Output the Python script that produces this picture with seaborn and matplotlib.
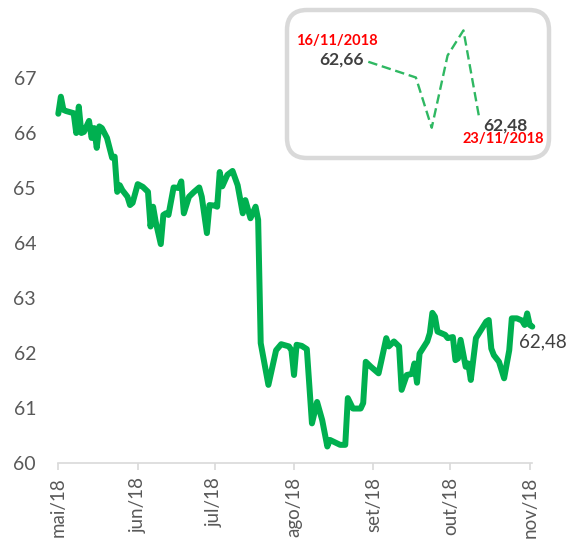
import pandas as pd
import matplotlib
matplotlib.use("Agg")
import matplotlib.pyplot as plt
from matplotlib.patches import FancyBboxPatch
from matplotlib.transforms import IdentityTransform
import seaborn as sns

# daily price series
dates = [
    '2018-05-01', '2018-05-02', '2018-05-03', '2018-05-04', '2018-05-07', '2018-05-08',
    '2018-05-09', '2018-05-10', '2018-05-11', '2018-05-13', '2018-05-14', '2018-05-15',
    '2018-05-16', '2018-05-17', '2018-05-18', '2018-05-20', '2018-05-21', '2018-05-22',
    '2018-05-23', '2018-05-24', '2018-05-25', '2018-05-26', '2018-05-28', '2018-05-29',
    '2018-05-30', '2018-06-01', '2018-06-03', '2018-06-05', '2018-06-06', '2018-06-07',
    '2018-06-08', '2018-06-10', '2018-06-11', '2018-06-12', '2018-06-13', '2018-06-15',
    '2018-06-17', '2018-06-18', '2018-06-19', '2018-06-21', '2018-06-23', '2018-06-25',
    '2018-06-26', '2018-06-28', '2018-06-29', '2018-07-01', '2018-07-02', '2018-07-03',
    '2018-07-04', '2018-07-06', '2018-07-08', '2018-07-10', '2018-07-12', '2018-07-13',
    '2018-07-15', '2018-07-17', '2018-07-18', '2018-07-19', '2018-07-22', '2018-07-25',
    '2018-07-27', '2018-07-30', '2018-07-31', '2018-08-01', '2018-08-02', '2018-08-04',
    '2018-08-06', '2018-08-08', '2018-08-10', '2018-08-12', '2018-08-14', '2018-08-15',
    '2018-08-19', '2018-08-21', '2018-08-22', '2018-08-24', '2018-08-27', '2018-08-28',
    '2018-08-29', '2018-08-31', '2018-09-03', '2018-09-04', '2018-09-06', '2018-09-07',
    '2018-09-09', '2018-09-11', '2018-09-12', '2018-09-14', '2018-09-16', '2018-09-17',
    '2018-09-18', '2018-09-19', '2018-09-22', '2018-09-23', '2018-09-24', '2018-09-25',
    '2018-09-26', '2018-09-29', '2018-09-30', '2018-10-02', '2018-10-03', '2018-10-04',
    '2018-10-05', '2018-10-07', '2018-10-08', '2018-10-09', '2018-10-11', '2018-10-13',
    '2018-10-15', '2018-10-16', '2018-10-17', '2018-10-18', '2018-10-20', '2018-10-22',
    '2018-10-24', '2018-10-25', '2018-10-27', '2018-10-29', '2018-10-30', '2018-10-31',
    '2018-11-01', '2018-11-02',
]
values = [
    66.35, 66.66, 66.42, 66.40, 66.36, 66.00,
    66.48, 66.00, 66.02, 66.22, 65.91, 66.09,
    65.73, 66.12, 66.09, 65.91, 65.73, 65.55,
    65.57, 64.93, 65.05, 64.96, 64.84, 64.69,
    64.73, 65.07, 65.02, 64.93, 64.30, 64.66,
    64.39, 63.98, 64.51, 64.54, 64.51, 65.01,
    65.00, 65.12, 64.54, 64.84, 64.93, 65.01,
    64.84, 64.18, 64.69, 64.68, 64.66, 65.29,
    65.03, 65.24, 65.31, 65.05, 64.54, 64.78,
    64.45, 64.66, 64.42, 62.18, 61.42, 62.05,
    62.16, 62.12, 62.05, 61.60, 62.15, 62.13,
    62.07, 60.72, 61.11, 60.78, 60.30, 60.42,
    60.33, 60.33, 61.18, 60.99, 60.99, 61.09,
    61.84, 61.75, 61.63, 61.84, 62.27, 62.12,
    62.21, 62.12, 61.33, 61.60, 61.62, 61.81,
    61.46, 61.99, 62.21, 62.36, 62.73, 62.66,
    62.39, 62.33, 62.27, 62.29, 61.87, 61.90,
    62.24, 61.75, 61.81, 61.51, 62.27, 62.42,
    62.57, 62.60, 62.08, 61.96, 61.84, 61.54,
    62.05, 62.63, 62.63, 62.59, 62.51, 62.72,
    62.51, 62.48,
]
month_ticks = ['2018-05-01', '2018-06-01', '2018-07-01', '2018-08-01',
               '2018-09-01', '2018-10-01', '2018-11-01']
month_labels = ['mai/18', 'jun/18', 'jul/18', 'ago/18', 'set/18', 'out/18', 'nov/18']
y_ticks = [60, 61, 62, 63, 64, 65, 66, 67]

# last week detail (inset)
week_dates = ['2018-11-16', '2018-11-19', '2018-11-20', '2018-11-21', '2018-11-22', '2018-11-23']
week_values = [62.66, 62.61, 62.45, 62.68, 62.76, 62.48]

df = pd.DataFrame({'date': pd.to_datetime(dates), 'value': values})
wk = pd.DataFrame({'date': pd.to_datetime(week_dates), 'value': week_values})

sns.set_style("white")
plt.rcParams['font.family'] = ['Lato', 'DejaVu Sans']

GREEN = '#00B050'
GREY_TXT = '#595959'
W, H = 575, 548

fig = plt.figure(figsize=(W / 100, H / 100), dpi=100)
ax = fig.add_axes([58.3 / W, 85 / H, 474 / W, 412.5 / H])

sns.lineplot(data=df, x='date', y='value', ax=ax, color=GREEN, linewidth=4.3)
for ln in ax.lines:
    ln.set_solid_joinstyle('round')
    ln.set_clip_on(False)

ax.set_xlim(pd.Timestamp('2018-05-01'), pd.Timestamp('2018-11-02'))
ax.set_ylim(60, 67.5)
ax.set_xticks(pd.to_datetime(month_ticks))
ax.set_xticklabels(month_labels, rotation=90, fontsize=13.5, color=GREY_TXT)
ax.set_yticks(y_ticks)
ax.set_yticklabels([str(v) for v in y_ticks], fontsize=14, color=GREY_TXT)
ax.tick_params(axis='y', length=0, pad=16)
ax.tick_params(axis='x', length=5, width=1.2, color='#d9d9d9', direction='out', pad=5, bottom=True)
ax.set_xlabel('')
ax.set_ylabel('')
for side in ['left', 'top', 'right']:
    ax.spines[side].set_visible(False)
ax.spines['bottom'].set_color('#d9d9d9')
ax.spines['bottom'].set_linewidth(1.2)
ax.grid(False)

ax.annotate('62,48', xy=(df['date'].iloc[-1], df['value'].iloc[-1]),
            xytext=(-9.5, -11), textcoords='offset points',
            ha='left', va='center', fontsize=13.5, color='#404040')

# rounded box behind the inset
box = FancyBboxPatch((287, H - 158), 262, 148, boxstyle='round,pad=0,rounding_size=20',
                     transform=IdentityTransform(), facecolor='white',
                     edgecolor='#d9d9d9', linewidth=3.2, zorder=1)
fig.add_artist(box)

iax = fig.add_axes([368.3 / W, (H - 140) / H, 111 / W, 120 / H], zorder=2)
sns.lineplot(data=wk, x='date', y='value', ax=iax, color='#2fb862',
             linewidth=1.7, dashes=False)
iax.lines[0].set_dashes((4, 2))
iax.lines[0].set_clip_on(False)
iax.set_xlim(pd.Timestamp('2018-11-16'), pd.Timestamp('2018-11-23'))
iax.set_ylim(62.411, 62.793)
iax.axis('off')
iax.patch.set_alpha(0)

first_x, first_y = wk['date'].iloc[0], wk['value'].iloc[0]
last_x, last_y = wk['date'].iloc[-1], wk['value'].iloc[-1]
iax.annotate('62,66', xy=(first_x, first_y), xytext=(-3, 1.5), textcoords='offset points',
             ha='right', va='center', fontsize=12.5, fontweight='bold', color='#404040',
             annotation_clip=False)
iax.annotate('16/11/2018', xy=(first_x, first_y), xytext=(7, 15), textcoords='offset points',
             ha='right', va='center', fontsize=10.5, fontweight='bold', color='#ff0000',
             annotation_clip=False)
iax.annotate('62,48', xy=(last_x, last_y), xytext=(3, -5), textcoords='offset points',
             ha='left', va='center', fontsize=12.5, fontweight='bold', color='#404040',
             annotation_clip=False)
iax.annotate('23/11/2018', xy=(last_x, last_y), xytext=(-12, -15), textcoords='offset points',
             ha='left', va='center', fontsize=10.5, fontweight='bold', color='#ff0000',
             annotation_clip=False)

fig.savefig('out.png', dpi=100)
